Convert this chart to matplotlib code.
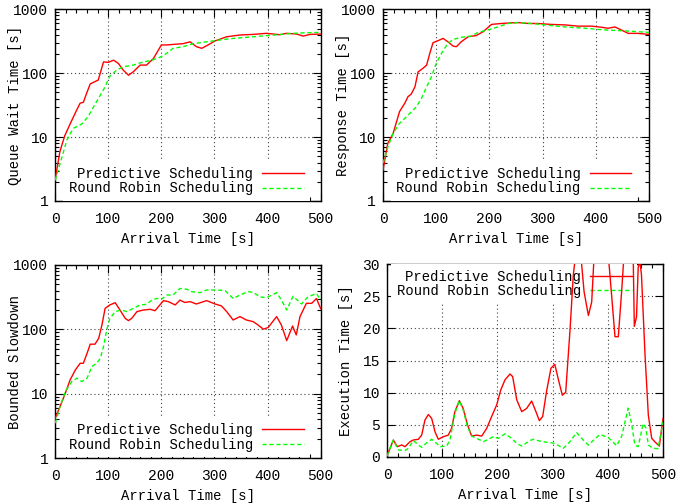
import numpy as np
import matplotlib
matplotlib.use("Agg")
import matplotlib.pyplot as plt
from matplotlib.ticker import MultipleLocator, LogLocator, NullFormatter, FixedLocator

plt.rcParams["font.family"] = ["Liberation Mono", "DejaVu Sans Mono"]
plt.rcParams["font.size"] = 10

# ======================
# Data
# ======================

# queue wait time
qw_pred_x = [0, 9, 18, 28, 40, 47, 53, 59, 66, 75, 81, 91, 100, 110, 119, 128, 138, 147,
             160, 172, 185, 200, 210, 229, 241, 254, 266, 276, 288, 301, 323, 348, 373,
             398, 423, 436, 455, 467, 480, 500]
qw_pred_y = [2.2, 6, 10.5, 16, 26, 34, 35, 48, 68, 74, 78, 150, 148, 160, 142, 112, 93, 105,
             134, 134, 170, 277, 277, 285, 290, 310, 260, 245, 277, 320, 372, 396, 405,
             421, 400, 421, 410, 381, 405, 410]
qw_rr_x = [0, 22, 34, 50, 62, 78, 91, 103, 116, 128, 147, 166, 182, 197, 210, 222, 241,
           260, 285, 310, 335, 373, 411, 448, 474, 500]
qw_rr_y = [2.1, 9, 13.7, 16, 21, 36, 55, 90, 112, 126, 134, 150, 160, 177, 205, 245, 260,
           290, 310, 331, 350, 372, 395, 421, 430, 435]

# response time
rt_pred_x = [0, 9, 19, 31, 41, 47, 53, 60, 66, 75, 82, 88, 94, 103, 113, 122, 132, 138,
             147, 160, 175, 188, 204, 222, 241, 254, 273, 291, 316, 342, 367, 392, 410,
             423, 436, 448, 461, 479, 500]
rt_pred_y = [3.05, 8, 11.4, 25, 34, 43, 47, 61, 105, 119, 134, 205, 300, 322, 350, 310,
             265, 260, 310, 372, 388, 445, 580, 600, 613, 620, 600, 600, 580, 570, 545,
             545, 525, 505, 530, 475, 420, 420, 405]
rt_rr_x = [0, 9, 19, 31, 47, 63, 72, 82, 91, 100, 110, 122, 132, 147, 166, 179, 197, 216,
           235, 254, 279, 304, 342, 379, 417, 454, 500]
rt_rr_y = [3.9, 7, 11.4, 16.4, 22, 30, 40, 61, 88, 142, 205, 293, 338, 365, 381, 437,
           475, 530, 600, 620, 600, 570, 530, 505, 475, 460, 435]

# bounded slowdown
bs_pred_x = [0, 9, 19, 28, 38, 47, 53, 60, 66, 75, 82, 88, 94, 103, 113, 122, 132, 138,
             144, 154, 166, 179, 188, 204, 213, 226, 235, 244, 254, 266, 285, 301, 313,
             323, 335, 348, 360, 373, 382, 392, 401, 417, 426, 436, 447, 454, 461, 473,
             483, 492, 500]
bs_pred_y = [4.2, 6.3, 10.2, 16.4, 23.5, 29.8, 29.8, 42.5, 59, 59, 73, 117, 212, 240, 260,
             200, 148, 137, 148, 189, 200, 205, 195, 280, 270, 240, 285, 262, 270, 248,
             280, 248, 232, 189, 140, 158, 140, 132, 117, 101, 107, 158, 117, 67, 113, 82,
             158, 254, 254, 302, 210]
bs_rr_x = [0, 9, 19, 31, 41, 50, 60, 69, 78, 85, 91, 97, 103, 113, 125, 135, 147, 160,
           172, 182, 191, 200, 210, 222, 235, 248, 257, 273, 285, 304, 320, 335, 348,
           363, 373, 385, 398, 417, 426, 436, 448, 464, 476, 492, 500]
bs_rr_y = [3.5, 6.3, 10.8, 15.5, 17.5, 15.5, 17.5, 26.5, 29.8, 35.6, 54, 98, 148, 189,
           200, 189, 212, 240, 245, 285, 302, 293, 342, 342, 432, 420, 385, 372, 409,
           409, 400, 302, 342, 385, 377, 320, 311, 372, 285, 200, 327, 248, 320, 360, 285]

# execution time
ex_pred_x = [0, 11.5, 18.7, 26.6, 32.6, 41.7, 47.7, 56.8, 62.8, 68.8, 74.9, 80.9, 87, 93,
             102, 111, 117, 123, 131, 138, 145.8, 153.4, 162.5, 171.5, 180.6, 189.6,
             198.7, 206, 213.8, 222.8, 227.6, 235, 244, 253, 262, 270, 276, 282, 289, 297,
             304, 310, 317.6, 323.7, 331.5, 337.5, 345, 352, 357, 364.8, 370.8, 375, 388,
             401, 402.8, 413, 419, 425, 429, 437, 446, 448, 452, 455, 458, 461, 467.4,
             473.4, 479.5, 486, 493.3, 500]
ex_pred_y = [0.15, 2.64, 1.6, 1.87, 1.6, 2.38, 2.64, 2.75, 3.4, 5.75, 6.6, 6.0, 3.9, 2.75,
             3.15, 3.4, 4.45, 7.05, 8.75, 7.55, 5.0, 3.25, 3.4, 3.25, 4.45, 6.3, 8.1, 10.4,
             12.0, 12.9, 12.5, 8.9, 7.05, 7.55, 8.7, 7.0, 5.65, 6.3, 10.2, 13.8, 14.4,
             12.2, 9.6, 10.05, 19.7, 28.3, 34, 30.5, 25.7, 22, 24.1, 31, 45, 31, 29.4,
             18.7, 18.7, 25.7, 31, 40, 31, 20.3, 21.8, 29.4, 30.5, 28.3, 15.9, 6.5, 2.9,
             2.3, 1.7, 6.0]
ex_rr_x = [0, 11.5, 20.5, 32.6, 38.6, 47.7, 56.8, 62.8, 71.8, 80.9, 90, 96, 108, 114, 123,
           131, 138, 145.8, 153.4, 162.5, 174.5, 183.6, 192.6, 201.6, 213.8, 225.8, 235,
           244, 259, 265, 280, 298, 304, 319.5, 331.5, 343.5, 355.8, 364.8, 373.9, 385.9,
           401, 416, 425, 437, 443, 449, 455, 464, 469, 473.4, 482, 491, 500]
ex_rr_y = [0.15, 2.64, 1.1, 1.0, 1.35, 2.55, 1.87, 1.5, 2.2, 2.75, 2.1, 1.6, 1.7, 2.64,
           6.8, 8.75, 7.3, 4.7, 3.25, 2.9, 2.38, 2.75, 3.15, 2.9, 3.6, 2.9, 2.1, 1.7,
           2.55, 2.75, 2.4, 2.2, 2.1, 1.35, 2.4, 3.8, 2.6, 1.85, 2.6, 3.5, 3.0, 1.75, 3.2,
           7.6, 5.2, 1.85, 1.6, 5.2, 4.5, 1.85, 1.35, 1.3, 5.5]

labels = ["Predictive Scheduling", "Round Robin Scheduling"]
x_label = "Arrival Time [s]"


# ======================
# Figure
# ======================

fig = plt.figure(figsize=(6.78, 5.03), dpi=100)

panels = [
    # rect, pred, rr, ylabel, log, legend loc, anchor
    ([0.0814, 0.6004, 0.3916, 0.3811], (qw_pred_x, qw_pred_y), (qw_rr_x, qw_rr_y),
     "Queue Wait Time [s]", True, "lower right", (0.958, 0.0)),
    ([0.5649, 0.6004, 0.3923, 0.3811], (rt_pred_x, rt_pred_y), (rt_rr_x, rt_rr_y),
     "Response Time [s]", True, "lower right", (0.954, 0.0)),
    ([0.0814, 0.0889, 0.3916, 0.3843], (bs_pred_x, bs_pred_y), (bs_rr_x, bs_rr_y),
     "Bounded Slowdown", True, "lower right", (0.958, 0.005)),
    ([0.5708, 0.0915, 0.4071, 0.3836], (ex_pred_x, ex_pred_y), (ex_rr_x, ex_rr_y),
     "Execution Time [s]", False, "upper right", (0.906, 1.0)),
]

for rect, pred, rr, ylab, is_log, loc, anchor in panels:
    ax = fig.add_axes(rect)
    ax.plot(pred[0], pred[1], color="#ff0000", lw=1.0, zorder=3, label=labels[0])
    ax.plot(rr[0], rr[1], color="#00ff00", lw=1.0, dashes=(3, 2), zorder=3, label=labels[1])

    ax.set_xlim(0, 500)
    ax.xaxis.set_major_locator(MultipleLocator(100))
    ax.xaxis.set_minor_locator(MultipleLocator(20))
    if is_log:
        ax.set_yscale("log")
        ax.set_ylim(1, 1000)
        ax.yaxis.set_major_locator(FixedLocator([1, 10, 100, 1000]))
        ax.set_yticklabels(["1", "10", "100", "1000"])
        ax.yaxis.set_minor_locator(LogLocator(base=10, subs=np.arange(2, 10)))
        ax.yaxis.set_minor_formatter(NullFormatter())
    else:
        ax.set_ylim(0, 30)
        ax.yaxis.set_major_locator(MultipleLocator(5))

    ax.tick_params(which="both", direction="in", top=True, right=True, width=0.8)
    ax.tick_params(which="major", length=6, labelsize=10.5)
    ax.tick_params(which="minor", length=3)
    ax.tick_params(axis="x", pad=8)
    ax.tick_params(axis="y", pad=5)
    for sp in ax.spines.values():
        sp.set_linewidth(1.0)

    ax.grid(True, which="major", color="0.25", linestyle=(0, (1, 2.5)), lw=0.8)
    ax.set_axisbelow(True)

    ax.set_xlabel(x_label)
    ax.set_ylabel(ylab)
    ax.yaxis.set_label_coords(-0.125, 0.5)

    leg = ax.legend(loc=loc, bbox_to_anchor=anchor, markerfirst=False, frameon=True,
                    fancybox=False, facecolor="white", edgecolor="none", framealpha=1,
                    handlelength=3.0, handletextpad=0.65, labelspacing=0.05,
                    borderpad=0.4, borderaxespad=0, fontsize=10)
    leg.set_zorder(2.5)

fig.savefig("out.png", dpi=100, facecolor="white")
